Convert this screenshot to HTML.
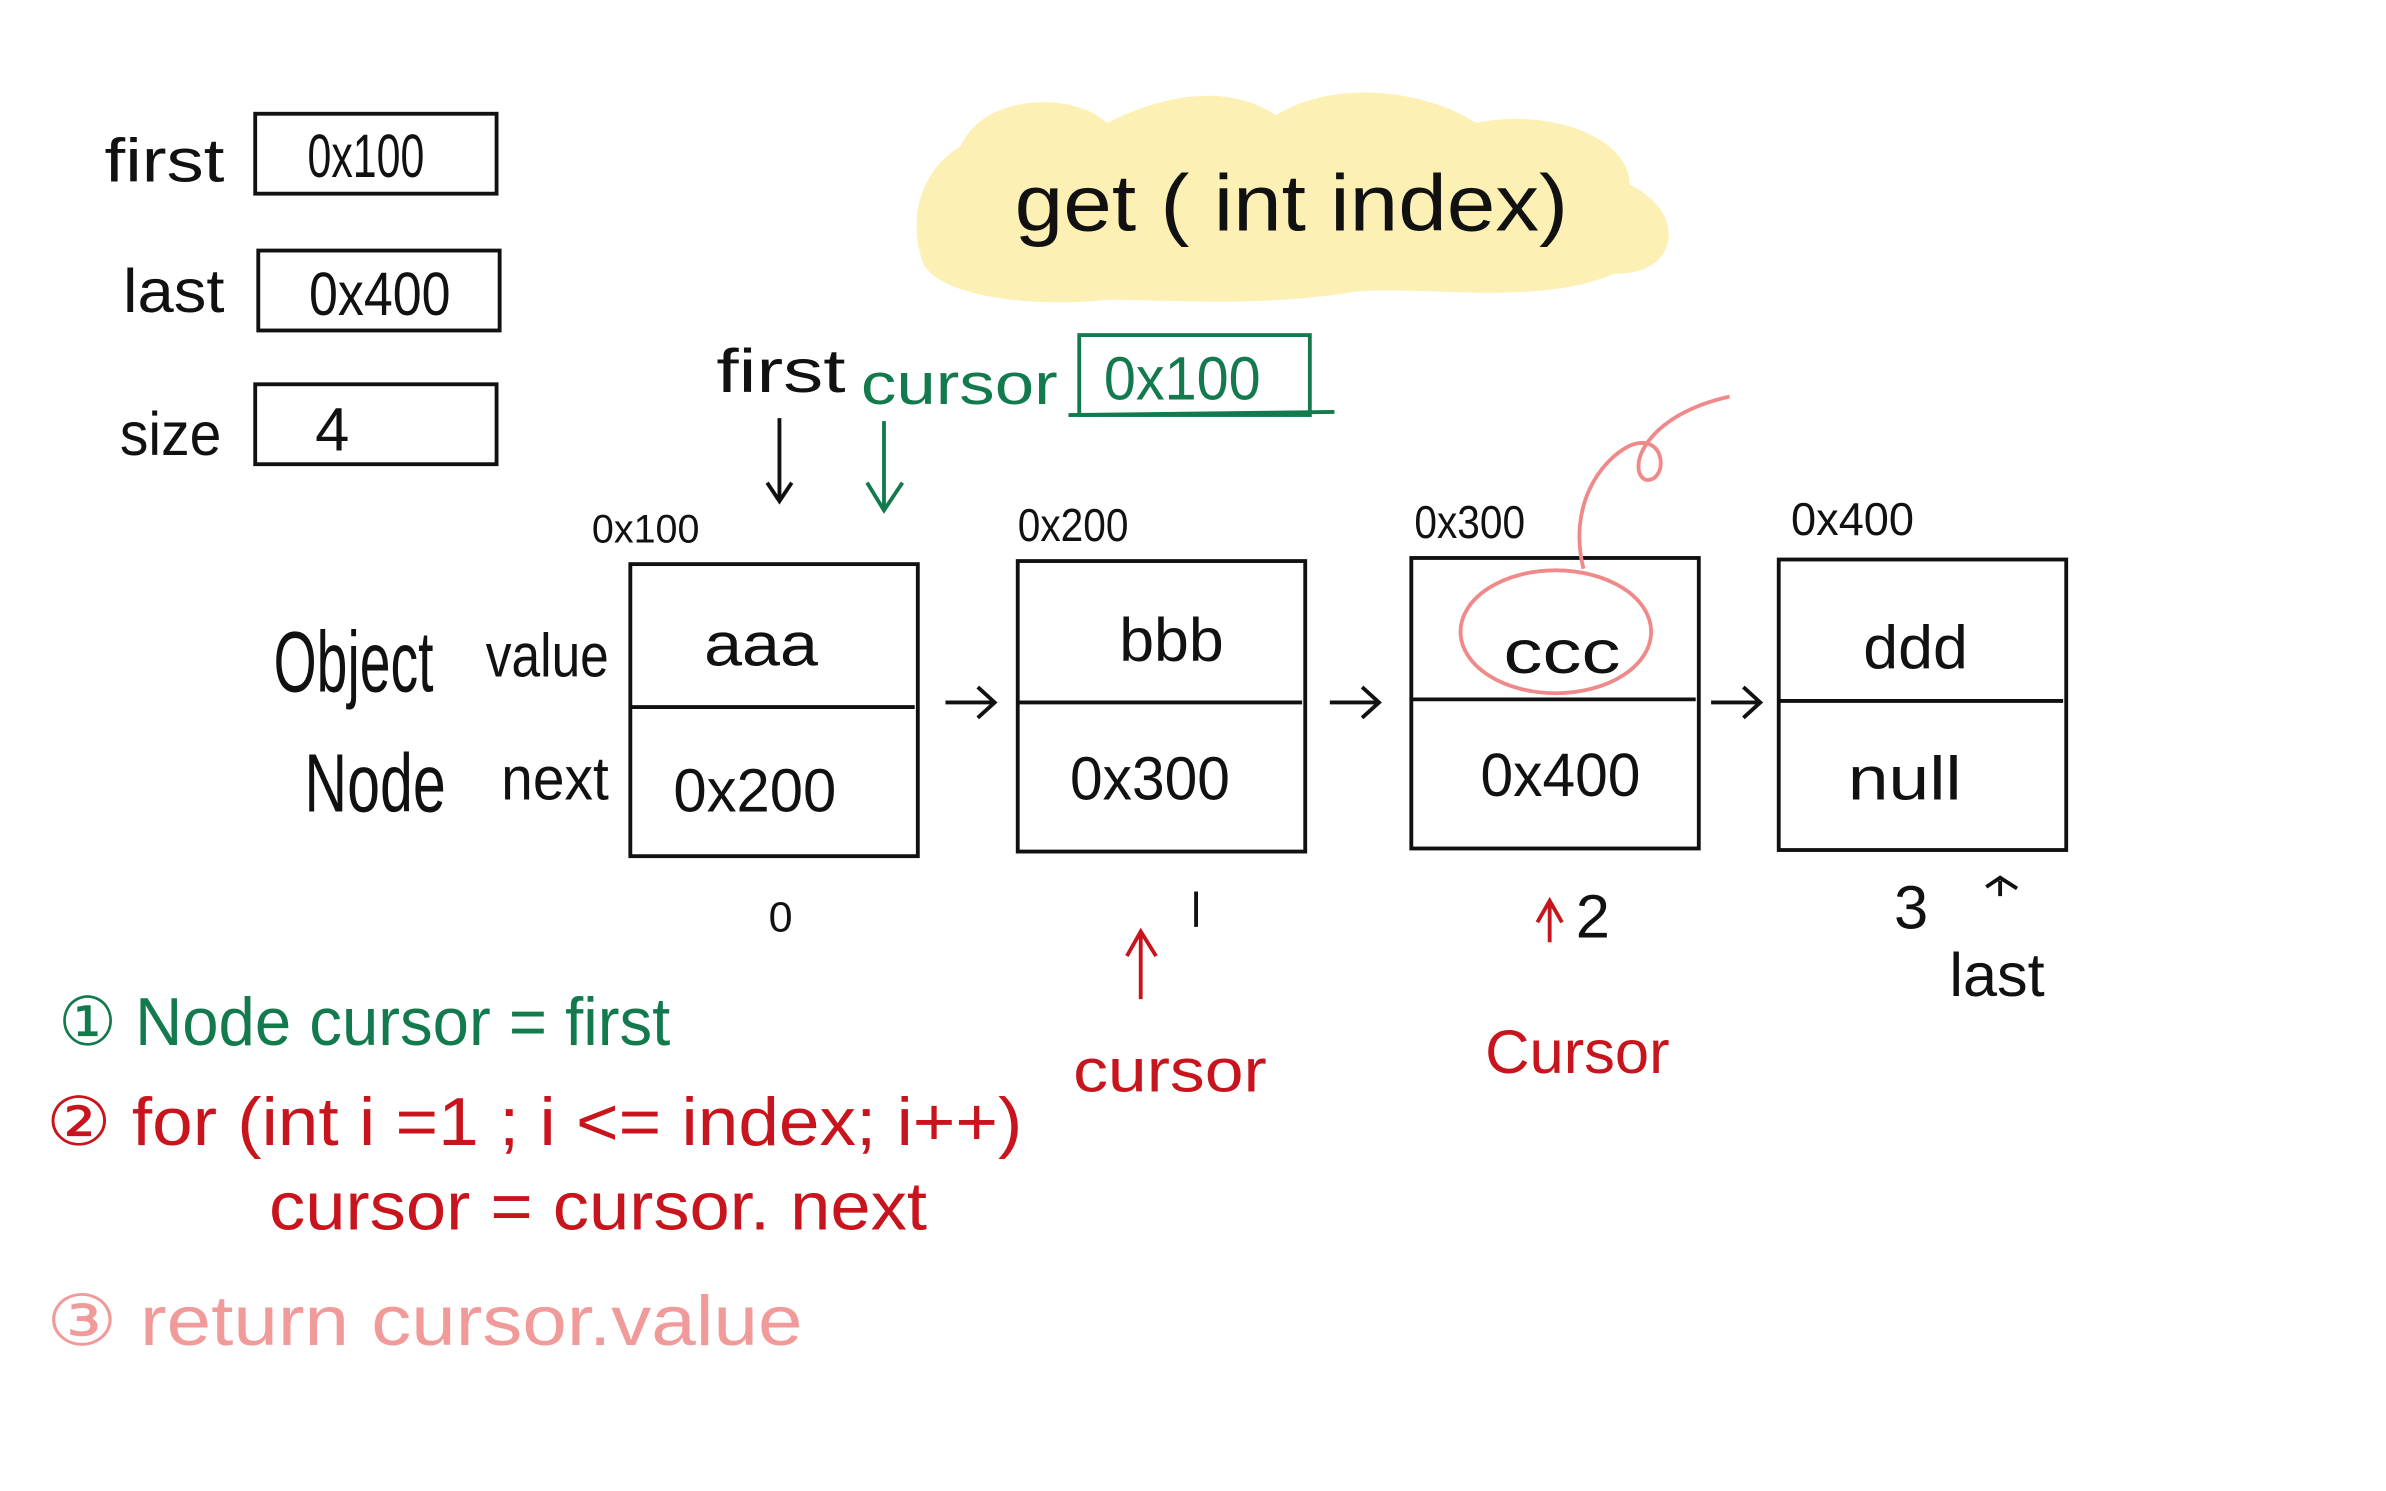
<!DOCTYPE html>
<html><head><meta charset="utf-8"><style>
html,body{margin:0;padding:0;background:#fff;}
svg{display:block;}
text{font-family:"Liberation Sans",sans-serif;}
</style></head><body>
<svg width="2386" height="1491" viewBox="0 0 1552 970" preserveAspectRatio="none" xmlns="http://www.w3.org/2000/svg">
<rect width="1552" height="970" fill="#fff"/>
<!-- yellow highlight -->
<path d="M625,95 C640,60 700,60 720,80 C760,60 800,55 830,75 C870,50 930,60 960,80 C1010,70 1060,90 1060,120 C1100,140 1090,180 1050,178 C1000,200 920,185 880,190 C820,200 760,195 720,195 C680,200 610,195 600,170 C590,140 600,110 625,95Z" fill="#fcf0b4"/>
<text x="660" y="150" font-size="52" fill="#111" transform="scale(1,1)" textLength="360" lengthAdjust="spacingAndGlyphs">get ( int index)</text>
<!-- left fields -->
<g stroke="#111" stroke-width="2.5" fill="none">
<rect x="166" y="74" width="157" height="52"/>
<rect x="168" y="163" width="157" height="52"/>
<rect x="166" y="250" width="157" height="52"/>
<rect x="410" y="367" width="187" height="190"/><line x1="410" y1="460" x2="595" y2="460"/>
<rect x="662" y="365" width="187" height="189"/><line x1="662" y1="457" x2="847" y2="457"/>
<rect x="918" y="363" width="187" height="189"/><line x1="918" y1="455" x2="1103" y2="455"/>
<rect x="1157" y="364" width="187" height="189"/><line x1="1157" y1="456" x2="1342" y2="456"/>
<path d="M507,272 L507,325 M499,314 L507,326 L515,314"/>
<path d="M615,457 L647,457 M636,447 L647,457 L636,467"/>
<path d="M865,457 L897,457 M886,447 L897,457 L886,467"/>
<path d="M1113,457 L1145,457 M1134,447 L1145,457 L1134,467"/>
<path d="M778,580 L778,603"/>
<path d="M1301,573 L1301,583 M1292,577 L1301,571 L1312,578"/>
</g>
<g fill="#111" font-size="40">
<text x="68" y="118" textLength="78" lengthAdjust="spacingAndGlyphs">first</text>
<text x="200" y="115" textLength="76" lengthAdjust="spacingAndGlyphs">0x100</text>
<text x="80" y="203" textLength="66" lengthAdjust="spacingAndGlyphs">last</text>
<text x="201" y="205" textLength="92" lengthAdjust="spacingAndGlyphs">0x400</text>
<text x="78" y="296" textLength="66" lengthAdjust="spacingAndGlyphs">size</text>
<text x="205" y="293">4</text>
<text x="466" y="255" textLength="84" lengthAdjust="spacingAndGlyphs">first</text>
<text x="385" y="353" font-size="26" textLength="70" lengthAdjust="spacingAndGlyphs">0x100</text>
<text x="662" y="352" font-size="30" textLength="72" lengthAdjust="spacingAndGlyphs">0x200</text>
<text x="920" y="350" font-size="30" textLength="72" lengthAdjust="spacingAndGlyphs">0x300</text>
<text x="1165" y="348" font-size="30" textLength="80" lengthAdjust="spacingAndGlyphs">0x400</text>
<text x="178" y="450" font-size="56" textLength="104" lengthAdjust="spacingAndGlyphs">Object</text>
<text x="316" y="440" textLength="80" lengthAdjust="spacingAndGlyphs">value</text>
<text x="198" y="528" font-size="54" textLength="92" lengthAdjust="spacingAndGlyphs">Node</text>
<text x="326" y="520" textLength="70" lengthAdjust="spacingAndGlyphs">next</text>
<text x="458" y="433" textLength="74" lengthAdjust="spacingAndGlyphs">aaa</text>
<text x="438" y="528" textLength="106" lengthAdjust="spacingAndGlyphs">0x200</text>
<text x="728" y="430" textLength="68" lengthAdjust="spacingAndGlyphs">bbb</text>
<text x="696" y="520" textLength="104" lengthAdjust="spacingAndGlyphs">0x300</text>
<text x="978" y="438" textLength="76" lengthAdjust="spacingAndGlyphs">ccc</text>
<text x="963" y="518" textLength="104" lengthAdjust="spacingAndGlyphs">0x400</text>
<text x="1212" y="435" textLength="68" lengthAdjust="spacingAndGlyphs">ddd</text>
<text x="1202" y="520" textLength="74" lengthAdjust="spacingAndGlyphs">null</text>
<text x="500" y="606" font-size="28">0</text>
<text x="1232" y="604">3</text>
<text x="1268" y="648" textLength="62" lengthAdjust="spacingAndGlyphs">last</text>
<text x="1025" y="610" fill="#111">2</text>
</g>
<!-- green -->
<g fill="#137a4e" stroke="#137a4e">
<text x="560" y="263" font-size="38" stroke="none" textLength="128" lengthAdjust="spacingAndGlyphs">cursor</text>
<rect x="702" y="218" width="150" height="52" fill="none" stroke-width="2.5"/>
<path d="M695,270 L868,268" fill="none" stroke-width="2.5"/>
<text x="718" y="260" font-size="40" stroke="none" textLength="102" lengthAdjust="spacingAndGlyphs">0x100</text>
<path d="M575,274 L575,330 M564,314 L575,332 L587,314" fill="none" stroke-width="2.5"/>
<text x="38" y="680" font-size="44" stroke="none" textLength="398" lengthAdjust="spacingAndGlyphs">① Node cursor = first</text>
</g>
<!-- red -->
<g fill="#c8141c" stroke="#c8141c">
<text x="30" y="745" font-size="44" stroke="none" textLength="635" lengthAdjust="spacingAndGlyphs">② for (int i =1 ; i &lt;= index; i++)</text>
<text x="175" y="800" font-size="44" stroke="none" textLength="428" lengthAdjust="spacingAndGlyphs">cursor = cursor. next</text>
<text x="698" y="710" font-size="40" stroke="none" textLength="126" lengthAdjust="spacingAndGlyphs">cursor</text>
<text x="966" y="698" font-size="40" stroke="none" textLength="120" lengthAdjust="spacingAndGlyphs">Cursor</text>
<path d="M742,650 L742,608 M733,622 L742,606 L752,622" fill="none" stroke-width="2.5"/>
<path d="M1008,613 L1008,588 M1000,600 L1008,586 L1016,600" fill="none" stroke-width="2.5"/>
</g>
<!-- pink -->
<g fill="#f19a9a" stroke="#f08a8a">
<text x="30" y="875" font-size="46" stroke="none" textLength="492" lengthAdjust="spacingAndGlyphs">③ return cursor.value</text>
<ellipse cx="1012" cy="411" rx="62" ry="40" fill="none" stroke-width="2.5"/>
<path d="M1030,370 C1020,330 1040,300 1060,290 C1085,280 1085,315 1070,312 C1058,305 1070,270 1125,258" fill="none" stroke-width="2.5"/>
</g>
</svg>
</body></html>
